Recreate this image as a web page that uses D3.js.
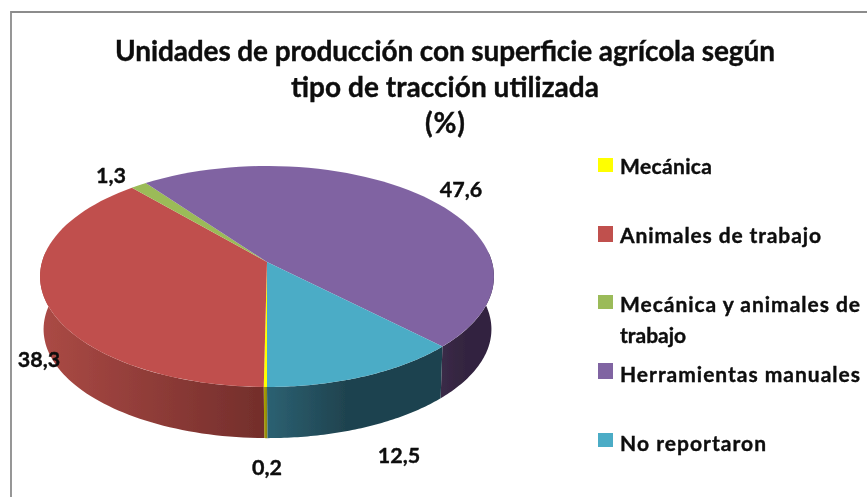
<!DOCTYPE html>
<html><head><meta charset="utf-8">
<script src="https://cdn.jsdelivr.net/npm/d3@7/dist/d3.min.js"></script>
<style>html,body{margin:0;padding:0;background:#fff}svg{display:block}text{font-family:Lato,"Open Sans",sans-serif;font-weight:700;fill:#0a0a0a;stroke:#0a0a0a;stroke-width:0.35px}</style>
</head><body><svg id="c" width="867" height="497"></svg>
<script>
const categories = ["Mecánica","Animales de trabajo","Mecánica y animales de trabajo","Herramientas manuales","No reportaron"];
const values = [0.2,38.3,1.3,47.6,12.5];
const colors = ["#ffff00","#c0504d","#9bbb59","#8064a2","#4bacc6"];
const sideFrom = ["#b0a800","#ab4a45","#7d9648","#3a2a47","#2c6172"];
const sideTo = ["#8a8410","#732e2b","#5d7035","#33243f","#1f434f"];
const valueLabels = ["0,2","38,3","1,3","47,6","12,5"];
const titleLines = ["Unidades de producción con superficie agrícola según","tipo de tracción utilizada","(%)"];
const legendLines = [["Mecánica"],["Animales de trabajo"],["Mecánica y animales de","trabajo"],["Herramientas manuales"],["No reportaron"]];

const svg = d3.select("#c");
const W=867,H=497;
svg.append("path").attr("d",`M11 ${H}V12H${W}`).attr("fill","none").attr("stroke","#8c8c8c").attr("stroke-width",1.8);

const a=0.131;
function project(t,R,b,y0,cx){ // t: clockwise angle from top of the disc
  const u=Math.sin(t),v=-Math.cos(t),w=1-a*v;
  return [cx+R*u/w,y0+b*v/w];
}
const topRim=t=>project(t,225,108.6,262,267);
const botRim=t=>project(t,222,107,315,267.5);
const pie=d3.pie().sort(null).startAngle(Math.PI).endAngle(3*Math.PI);
const arcs=pie(values);
const defs=svg.append("defs");
defs.append("filter").attr("id","soft").append("feGaussianBlur").attr("stdDeviation",0.5);
defs.append("filter").attr("id","softText").append("feGaussianBlur").attr("stdDeviation",0.3);
const line=d3.line();
const sampled=(s,e)=>d3.range(0,61).map(i=>s+(e-s)*i/60);

const g=svg.append("g").attr("filter","url(#soft)");
// side walls: only the front-facing half of the rim
const frontStart=Math.PI*0.47, frontEnd=Math.PI*1.53;
arcs.forEach((d,i)=>{
  [[d.startAngle,d.endAngle],[d.startAngle-2*Math.PI,d.endAngle-2*Math.PI]].forEach(([s0,e0],k)=>{
    const s=Math.max(s0,frontStart),e=Math.min(e0,frontEnd);
    if(e<=s) return;
    const ts=sampled(s,e);
    const ptsT=ts.map(topRim),ptsB=ts.map(botRim).reverse();
    const id="g"+i+"_"+k;
    const xs=ptsT.map(p=>p[0]);
    const leftSide=(s+e)/2>Math.PI;
    const gr=defs.append("linearGradient").attr("id",id).attr("gradientUnits","userSpaceOnUse")
      .attr("x1",d3.min(xs)).attr("x2",leftSide?d3.max(xs):d3.min(xs)+Math.max(d3.max(xs)-d3.min(xs),1)*0.45).attr("y1",0).attr("y2",0);
    gr.append("stop").attr("offset",0).attr("stop-color",sideFrom[i]);
    gr.append("stop").attr("offset",1).attr("stop-color",sideTo[i]);
    g.append("path").attr("d",line(ptsT.concat(ptsB))+"Z").attr("fill",`url(#${id})`);
  });
});
// top face
arcs.forEach((d,i)=>{
  const pts=[[267,262]].concat(sampled(d.startAngle,d.endAngle).map(topRim));
  g.append("path").attr("d",line(pts)+"Z").attr("fill",colors[i]);
});

const textLayer=svg.append("g").attr("filter","url(#softText)");
// title
const titleWidths=[660,308,40];
textLayer.append("g").selectAll("text").data(titleLines).join("text")
  .attr("x",445).attr("y",(d,i)=>[61,97,133][i]).attr("text-anchor","middle")
  .attr("font-size",28).attr("textLength",(d,i)=>titleWidths[i]).attr("lengthAdjust","spacing").text(d=>d);

// value labels
const labelPos=[[267,475],[39,367],[111,183],[461,197],[399,463]];
textLayer.append("g").selectAll("text").data(valueLabels).join("text")
  .attr("x",(d,i)=>labelPos[i][0]).attr("y",(d,i)=>labelPos[i][1]).attr("text-anchor","middle")
  .attr("font-size",21.5).text(d=>d);

// legend
const legY=[158,226,295,363,433];
const legH=[14,16,14,16,14];
const legBase=[[174],[243],[312,343],[382],[451]];
const legW=[[92],[201],[240],[240],[146]];
const leg=svg.append("g");
categories.forEach((c,i)=>{
  leg.append("rect").attr("x",598).attr("y",legY[i]).attr("width",15).attr("height",legH[i]).attr("fill",colors[i]);
  legendLines[i].forEach((l,j)=>{
    const t=textLayer.append("text").attr("x",620).attr("y",legBase[i][j]).attr("font-size",21).text(l);
    if(legW[i][j]) t.attr("textLength",legW[i][j]).attr("lengthAdjust","spacing");
  });
});
</script></body></html>
